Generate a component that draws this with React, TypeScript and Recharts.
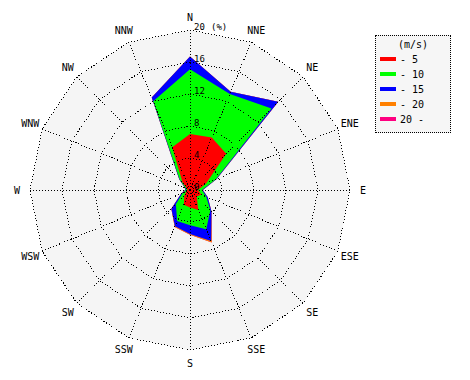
import React from 'react';
import { RadarChart, Radar, PolarGrid, PolarAngleAxis, PolarRadiusAxis, Legend } from 'recharts';

const directions = ['N', 'NNE', 'NE', 'ENE', 'E', 'ESE', 'SE', 'SSE', 'S', 'SSW', 'SW', 'WSW', 'W', 'WNW', 'NW', 'NNW'];
// frequency (%) per speed bin for each direction
const speed0to5 = [7.0, 7.1, 6.4, 2.2, 1.0, 1.5, 1.2, 2.7, 2.2, 2.0, 1.0, 0.5, 0.3, 0.4, 1.3, 5.8];
const speed5to10 = [8.1, 5.9, 8.0, 1.3, 0.5, 0.7, 2.4, 2.6, 2.2, 2.2, 1.5, 0.5, 0.2, 0.2, 0.5, 6.2];
const speed10to15 = [1.6, 0.3, 1.2, 0.1, 0.1, 0.2, 0.2, 1.6, 1.1, 0.7, 0.8, 0.2, 0.1, 0.1, 0.1, 0.5];
const speed15to20 = [0, 0, 0, 0, 0, 0, 0, 0.2, 0.1, 0.1, 0, 0, 0, 0, 0, 0];
const speed20up = [0, 0, 0, 0, 0, 0, 0, 0, 0, 0, 0, 0, 0, 0, 0, 0];

const binNames = ['- 5', '- 10', '- 15', '- 20', '20 -'];
const binColors = ['#ff0000', '#00ff00', '#0000ff', '#ff8000', '#ff0080'];
const bins = [speed0to5, speed5to10, speed10to15, speed15to20, speed20up];
const radiusTicks = [0, 4, 8, 12, 16, 20];

const data = directions.map((d, i) => {
  const row: Record<string, number | string> = { dir: d };
  let cum = 0;
  bins.forEach((b, k) => {
    cum += b[i];
    row['c' + k] = Math.round(cum * 100) / 100;
  });
  return row;
});

const W = 454;
const H = 364;
const CX = 182;
const CY = 182;
const R = 160;
const MONO = '"DejaVu Sans Mono", monospace';

const AngleTick = (props: any) => {
  const { x, y, payload } = props;
  const dx = x - CX;
  const dy = y - CY;
  const d = Math.hypot(dx, dy) || 1;
  const r = 173;
  return (
    <text x={CX + (dx / d) * r} y={CY + (dy / d) * r} textAnchor="middle" dominantBaseline="central" fontSize={10} fontFamily={MONO} fill="#000">
      {payload.value}
    </text>
  );
};

const RadiusTick = (props: any) => {
  const { x, y, payload } = props;
  return (
    <g>
      <text x={x + 4} y={y - 3} textAnchor="start" dominantBaseline="central" fontSize={9} fontFamily={MONO} fill="#000">
        {payload.value}
      </text>
      {payload.value === 20 ? (
        <text x={x + 21} y={y - 3} textAnchor="start" dominantBaseline="central" fontSize={9} fontFamily={MONO} fill="#000">
          (%)
        </text>
      ) : null}
    </g>
  );
};

const LegendBox = () => (
  <div style={{ position: 'relative', width: 74, height: 96, border: '1px dotted #000', background: '#f6f6f6', fontFamily: MONO, fontSize: 10, color: '#000' }}>
    <div style={{ position: 'absolute', left: 0, width: 74, top: 3, textAlign: 'center', lineHeight: '12px' }}>(m/s)</div>
    {binNames.map((n, i) => (
      <div key={n} style={{ position: 'absolute', left: 4, top: 18 + i * 15, height: 12, lineHeight: '12px', whiteSpace: 'pre' }}>
        <span style={{ display: 'inline-block', width: 16, height: 4, background: binColors[i], verticalAlign: 'middle', marginRight: 4, marginTop: -2 }} />
        <span style={{ verticalAlign: 'middle' }}>{n}</span>
      </div>
    ))}
  </div>
);

export default function App() {
  const order = [4, 3, 2, 1, 0];
  return (
    <RadarChart width={W} height={H} data={data} cx={CX} cy={CY} outerRadius={R} startAngle={90} endAngle={-270} margin={{ top: 0, right: 0, bottom: 0, left: 0 }}>
      <PolarAngleAxis dataKey="dir" tick={<AngleTick />} tickLine={false} axisLine={false} />
      <PolarRadiusAxis angle={90} domain={[0, 20]} ticks={radiusTicks} tick={<RadiusTick />} axisLine={false} tickLine={false} />
      <Radar dataKey={() => 20} name="bg" fill="#f5f5f5" fillOpacity={1} stroke="none" isAnimationActive={false} legendType="none" />
      {order.map((k) => (
        <Radar key={k} dataKey={'c' + k} name={binNames[k]} fill={binColors[k]} fillOpacity={1} stroke="none" isAnimationActive={false} />
      ))}
      <PolarGrid gridType="polygon" radialLines stroke="#000" strokeDasharray="1 2" shapeRendering="crispEdges" polarRadius={[32, 64, 96, 128, 160]} {...({ zIndex: 1000 } as any)} />
      <Legend content={<LegendBox />} wrapperStyle={{ left: 367, top: 27, width: 76 }} />
    </RadarChart>
  );
}
